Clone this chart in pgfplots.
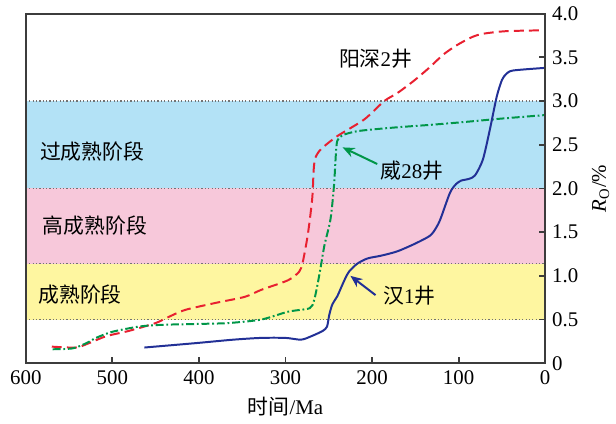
\documentclass[border=0pt]{standalone}
\usepackage{fontspec}
\setmainfont{Liberation Serif}
\newfontfamily\cjk{Noto Sans CJK SC}
\usepackage{pgfplots}
\pgfplotsset{compat=1.18}
\usetikzlibrary{arrows.meta}
\definecolor{bandblue}{RGB}{179,226,246}
\definecolor{bandpink}{RGB}{247,200,218}
\definecolor{bandyellow}{RGB}{254,246,160}
\definecolor{cred}{RGB}{232,32,48}
\definecolor{cgreen}{RGB}{0,150,72}
\definecolor{cblue}{RGB}{34,48,150}
\definecolor{frame}{RGB}{60,60,60}
\begin{document}
\begin{tikzpicture}
\begin{axis}[
  at={(0,0)}, anchor=south west,
  scale only axis, width=261.5pt, height=176pt,
  x dir=reverse, xmin=0, xmax=600, ymin=0, ymax=4,
  xtick={0,100,200,300,400,500,600},
  ytick={0,0.5,1,1.5,2,2.5,3,3.5,4},
  yticklabels={0,0.5,1.0,1.5,2.0,2.5,3.0,3.5,4.0},
  xtick pos=bottom, ytick pos=right, yticklabel pos=right,
  tick align=inside, major tick length=3pt,
  axis line style={draw=frame, line width=1pt},
  every tick/.style={frame, line width=0.9pt},
  /pgf/number format/assume math mode=true,
  tick label style={font=\fontsize{10.5}{12}\selectfont},
  xlabel={{\cjk 时间}/Ma},
  xlabel style={at={(axis description cs:0.5,-0.125)}, anchor=center, font=\fontsize{10.5}{12}\selectfont},
  ylabel={\textit{R}\textsubscript{O}/\%},
  ylabel style={at={(axis description cs:1.107,0.5)}, anchor=center, font=\fontsize{10.5}{12}\selectfont},
  axis on top,
  clip=true,
]
% bands
\addplot[draw=none, fill=bandblue] coordinates {(0,2) (600,2) (600,3) (0,3)} -- cycle;
\addplot[draw=none, fill=bandpink] coordinates {(0,1.14) (600,1.14) (600,2) (0,2)} -- cycle;
\addplot[draw=none, fill=bandyellow] coordinates {(0,0.5) (600,0.5) (600,1.14) (0,1.14)} -- cycle;
\addplot[black!55, line width=0.6pt, dash pattern=on 0.6pt off 1.1pt] coordinates {(600,3) (0,3)};
\addplot[black!55, line width=0.6pt, dash pattern=on 0.6pt off 1.1pt] coordinates {(600,2) (0,2)};
\addplot[black!55, line width=0.6pt, dash pattern=on 0.6pt off 1.1pt] coordinates {(600,1.14) (0,1.14)};
\addplot[black!55, line width=0.6pt, dash pattern=on 0.6pt off 1.1pt] coordinates {(600,0.5) (0,0.5)};
% Yangshen 2 (red dashed)
\addplot[cred, line width=1pt, dash pattern=on 5pt off 2.6pt, smooth, tension=0.45] coordinates {
(570,0.19) (542,0.18) (527,0.23) (507,0.31) (481,0.37) (450,0.46) (435,0.53) (416,0.61)
(381,0.69) (347,0.76) (328,0.84) (297,0.95) (284,1.05) (280,1.16) (274.4,1.46) (270,1.8)
(268.6,1.96) (267.4,2.22) (265.5,2.35) (259,2.45) (240,2.6) (209,2.79) (186,3.0)
(171,3.09) (152,3.23) (133,3.39) (118,3.53) (102,3.64) (85,3.73) (72,3.77) (45,3.8) (0,3.81)};
% Wei 28 (green dash-dot)
\addplot[cgreen, line width=1pt, dash pattern=on 4pt off 1.4pt on 0.9pt off 1.4pt, smooth, tension=0.45] coordinates {
(569,0.16) (546,0.17) (530,0.23) (519,0.29) (500,0.36) (469,0.42) (442,0.44) (400,0.45)
(366,0.46) (328,0.5) (297,0.59) (272,0.63) (267,0.72) (263,0.9) (259,1.12) (255,1.35)
(248,1.65) (244,2.03) (241.7,2.41) (240,2.55) (234,2.61) (220,2.65) (205,2.67) (171,2.7)
(130,2.73) (94,2.76) (50,2.8) (0,2.84)};
% Han 1 (blue solid)
\addplot[cblue, line width=1pt, smooth, tension=0.45] coordinates {
(463,0.18) (404,0.23) (360,0.27) (328,0.29) (300,0.29) (282,0.27) (270,0.31) (257,0.37)
(252,0.42) (249.5,0.55) (246,0.67) (240,0.77) (236,0.86) (231,0.97) (226.5,1.05) (217,1.14)
(205,1.2) (190,1.23) (171,1.28) (150,1.37) (133,1.46) (126,1.55) (121,1.65) (110,1.95)
(103,2.05) (97,2.09) (88,2.11) (81,2.15) (72,2.33) (64,2.67) (56,3.05) (50,3.24) (45,3.31)
(37,3.35) (0,3.38)};
% annotations
\draw[cgreen, line width=1pt, -{Stealth[length=6pt,width=5pt]}] (axis cs:194,2.28) -- (axis cs:234,2.47);
\draw[cblue, line width=1pt, -{Stealth[length=6pt,width=5pt]}] (axis cs:196,0.78) -- (axis cs:225,1.0);
\node[font=\fontsize{10.5}{12}\selectfont] at (axis cs:196,3.49) {{\cjk 阳深}2{\cjk 井}};
\node[font=\fontsize{10.5}{12}\selectfont] at (axis cs:154,2.2) {{\cjk 威}28{\cjk 井}};
\node[font=\fontsize{10.5}{12}\selectfont] at (axis cs:157,0.77) {{\cjk 汉}1{\cjk 井}};
\node[anchor=west, inner sep=0pt, font=\cjk\fontsize{10.5}{12}\selectfont] at (axis cs:584,2.42) {过成熟阶段};
\node[anchor=west, inner sep=0pt, font=\cjk\fontsize{10.5}{12}\selectfont] at (axis cs:581,1.57) {高成熟阶段};
\node[anchor=west, inner sep=0pt, font=\cjk\fontsize{10.5}{12}\selectfont] at (axis cs:586,0.78) {成熟阶段};
\end{axis}
\path (-13pt,-30pt) (295pt,182.5pt);
\end{tikzpicture}
\end{document}
